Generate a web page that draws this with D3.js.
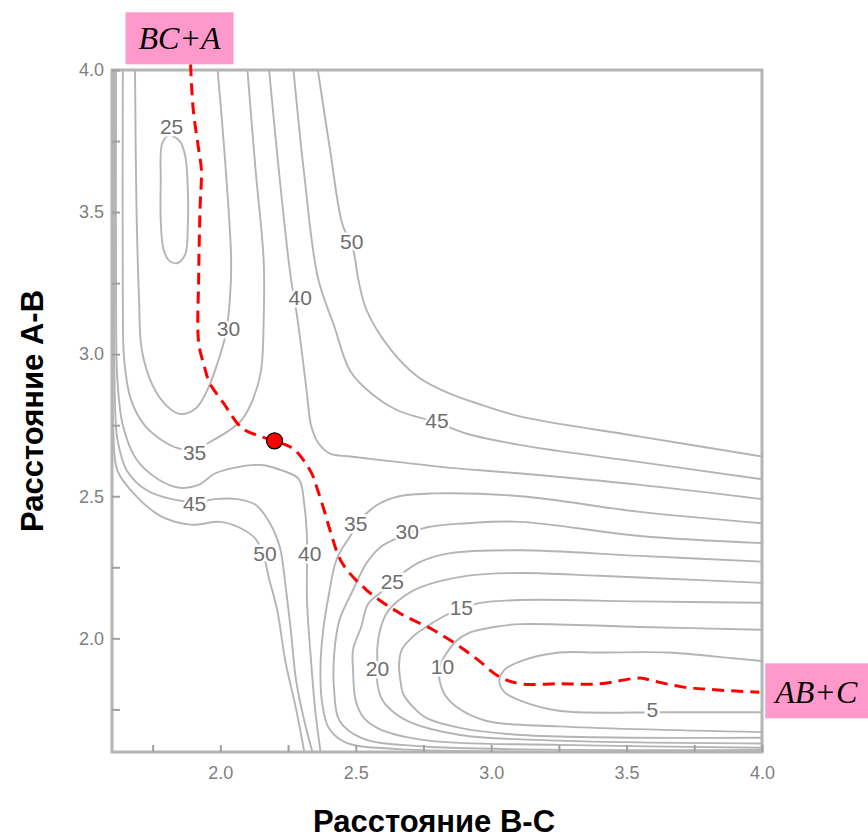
<!DOCTYPE html>
<html lang="ru">
<head>
<meta charset="UTF-8">
<title>Поверхность потенциальной энергии A + BC</title>
<script src="https://d3js.org/d3.v7.min.js"></script>
<style>
  body { margin: 0; background: #fff; }
  .axis .tick text { font-family: "Liberation Sans", Arial, sans-serif; font-size: 18px; fill: #808080; }
  .axis .tick line { stroke: #a0a0a0; stroke-width: 2; }
  .contour { fill: none; stroke: #b4b4b4; stroke-width: 1.9; }
  .clabel { font-family: "Liberation Sans", Arial, sans-serif; font-size: 21px; fill: #6e6e6e;
            text-anchor: middle; dominant-baseline: central;
            paint-order: stroke; stroke: #fff; stroke-width: 5px; }
  .axis-title { font-family: "Liberation Sans", Arial, sans-serif; font-weight: bold; font-size: 31px; fill: #000; }
  .tag text { font-family: "Liberation Serif", "Times New Roman", serif; font-style: italic; font-size: 32px; fill: #000; }
</style>
</head>
<body>
<svg id="chart" width="868" height="839"></svg>
<script>
// оси: r(B-C) по x, r(A-B) по y
const xTicks = [1.75, 2.0, 2.25, 2.5, 2.75, 3.0, 3.25, 3.5, 3.75, 4.0];
const yTicks = [1.75, 2.0, 2.25, 2.5, 2.75, 3.0, 3.25, 3.5, 3.75, 4.0];

// изолинии: [r(B-C), r(A-B)]
// выходной канал AB + C
const exit5 = [[4.00,1.92],[3.89,1.93],[3.65,1.95],[3.40,1.95],[3.25,1.95],[3.11,1.92],[3.05,1.89],[3.03,1.85],[3.05,1.81],[3.11,1.78],[3.25,1.745],[3.65,1.74],[4.00,1.74]];
const exit10 = [[4.00,2.03],[3.55,2.04],[3.11,2.05],[3.01,2.04],[2.92,2.02],[2.87,1.99],[2.83,1.94],[2.81,1.90],[2.81,1.85],[2.83,1.80],[2.87,1.76],[2.98,1.71],[3.25,1.69],[4.00,1.67]];
const exit15 = [[4.00,2.125],[3.55,2.13],[3.11,2.135],[2.96,2.125],[2.90,2.11],[2.82,2.075],[2.76,2.04],[2.71,2.005],[2.67,1.96],[2.66,1.91],[2.665,1.85],[2.675,1.805],[2.71,1.76],[2.76,1.72],[2.885,1.685],[3.11,1.66],[4.00,1.65]];
const exit20 = [[4.00,2.195],[3.77,2.205],[3.40,2.22],[3.11,2.23],[2.91,2.22],[2.74,2.18],[2.66,2.135],[2.615,2.09],[2.59,2.03],[2.58,1.97],[2.58,1.90],[2.58,1.84],[2.60,1.78],[2.64,1.74],[2.70,1.705],[2.885,1.66],[3.25,1.64],[4.00,1.63]];
const exit25 = [[4.00,2.27],[3.55,2.29],[3.11,2.31],[2.85,2.30],[2.74,2.27],[2.66,2.22],[2.59,2.16],[2.545,2.12],[2.52,2.04],[2.49,1.96],[2.49,1.89],[2.50,1.78],[2.53,1.72],[2.59,1.68],[2.77,1.64],[3.25,1.625],[4.00,1.615]];
const exit30 = [[4.00,2.335],[3.55,2.36],[3.11,2.41],[2.91,2.405],[2.76,2.39],[2.66,2.355],[2.59,2.32],[2.54,2.265],[2.49,2.17],[2.44,2.065],[2.42,1.94],[2.42,1.82],[2.44,1.71],[2.52,1.65],[2.74,1.62],[4.00,1.607]];
const exit35 = [[4.00,2.405],[3.55,2.445],[3.11,2.50],[2.785,2.51],[2.66,2.50],[2.58,2.47],[2.52,2.42],[2.48,2.36],[2.43,2.28],[2.40,2.15],[2.38,2.03],[2.37,1.91],[2.375,1.78],[2.40,1.685],[2.46,1.635],[2.66,1.61],[4.00,1.603]];
// входной канал BC + A
const loop25 = [[1.785,3.74],[1.78,3.61],[1.78,3.47],[1.79,3.37],[1.81,3.33],[1.84,3.32],[1.87,3.35],[1.88,3.455],[1.88,3.58],[1.87,3.70],[1.85,3.75],[1.81,3.77]];
const entry30 = [[1.685,4.00],[1.69,3.54],[1.70,3.19],[1.71,3.015],[1.75,2.89],[1.80,2.82],[1.85,2.79],[1.91,2.81],[1.955,2.88],[1.99,2.97],[2.02,3.07],[2.035,3.19],[2.04,3.33],[2.02,3.65],[1.99,4.00]];
const entry35 = [[1.64,4.00],[1.64,3.19],[1.645,2.98],[1.67,2.84],[1.72,2.75],[1.78,2.70],[1.84,2.67],[1.90,2.66],[1.96,2.69],[2.03,2.73],[2.08,2.77],[2.12,2.84],[2.15,2.94],[2.16,3.12],[2.16,3.33],[2.13,3.65],[2.10,4.00]];
// выше седла: гребень (справа сверху) и отталкивательная стенка (слева снизу)
const upper40 = [[2.18,4.00],[2.22,3.61],[2.26,3.27],[2.28,3.155],[2.30,3.015],[2.32,2.86],[2.335,2.75],[2.36,2.69],[2.405,2.65],[2.48,2.64],[2.66,2.62],[2.85,2.60],[3.11,2.58],[3.55,2.54],[4.00,2.49]];
const upper45 = [[2.27,4.00],[2.31,3.63],[2.36,3.27],[2.42,3.10],[2.48,2.94],[2.56,2.86],[2.66,2.80],[2.80,2.76],[2.91,2.72],[3.11,2.68],[3.55,2.62],[4.00,2.56]];
const upper50 = [[2.36,4.00],[2.405,3.72],[2.45,3.46],[2.49,3.37],[2.51,3.26],[2.54,3.155],[2.63,3.015],[2.73,2.92],[2.85,2.86],[2.97,2.82],[3.11,2.78],[3.55,2.71],[4.00,2.64]];
const lower40 = [[1.615,4.00],[1.615,3.19],[1.62,2.91],[1.64,2.75],[1.69,2.63],[1.77,2.56],[1.85,2.53],[1.92,2.54],[1.98,2.58],[2.05,2.60],[2.15,2.61],[2.23,2.59],[2.29,2.56],[2.31,2.47],[2.32,2.35],[2.32,2.135],[2.335,1.92],[2.35,1.75],[2.37,1.60]];
const lower45 = [[1.608,4.00],[1.608,3.085],[1.612,2.80],[1.62,2.70],[1.655,2.59],[1.73,2.52],[1.82,2.49],[1.91,2.48],[1.98,2.49],[2.06,2.49],[2.13,2.47],[2.18,2.41],[2.22,2.32],[2.24,2.19],[2.26,2.03],[2.28,1.85],[2.31,1.71],[2.34,1.60]];
const lower50 = [[1.603,4.00],[1.603,3.015],[1.605,2.73],[1.62,2.59],[1.685,2.505],[1.78,2.43],[1.89,2.40],[2.00,2.41],[2.07,2.39],[2.13,2.35],[2.16,2.29],[2.18,2.21],[2.21,2.10],[2.24,1.92],[2.28,1.75],[2.31,1.60]];

// подписи уровней: [уровень, r(B-C), r(A-B)]
const contourLabels = [[25,1.82,3.80],[30,2.03,3.09],[35,1.905,2.655],[40,2.295,3.20],[45,1.905,2.475],[50,2.165,2.30],
  [40,2.33,2.30],[50,2.485,3.395],[45,2.80,2.765],[35,2.50,2.405],[30,2.69,2.375],[25,2.635,2.20],
  [15,2.89,2.11],[20,2.58,1.895],[10,2.82,1.90],[5,3.595,1.75]];

// путь реакции и седловая точка
const reactionPath = [[1.89,4.02],[1.90,3.86],[1.92,3.72],[1.93,3.65],[1.925,3.51],[1.92,3.27],[1.92,3.04],[1.94,2.96],[1.96,2.90],[2.01,2.83],[2.08,2.74],[2.15,2.71],[2.20,2.695],[2.265,2.67],[2.305,2.63],[2.34,2.575],[2.36,2.52],[2.39,2.43],[2.405,2.38],[2.45,2.265],[2.54,2.17],[2.66,2.09],[2.785,2.03],[2.87,1.98],[2.95,1.925],[3.03,1.865],[3.11,1.84],[3.25,1.84],[3.40,1.84],[3.55,1.86],[3.60,1.85],[3.70,1.83],[3.81,1.82],[3.99,1.81]];
const saddle = [2.20, 2.695];

const openLines = [exit5, exit10, exit15, exit20, exit25, exit30, exit35, entry30, entry35,
  upper40, upper45, upper50, lower40, lower45, lower50];

const svg = d3.select("#chart");
const x = d3.scaleLinear().domain([1.6, 4.0]).range([112, 762]);
const y = d3.scaleLinear().domain([1.6, 4.0]).range([752, 70]);

svg.append("defs").append("clipPath").attr("id", "plot-clip")
  .append("rect")
  .attr("x", x(1.6)).attr("y", y(4.0))
  .attr("width", x(4.0) - x(1.6)).attr("height", y(1.6) - y(4.0));

const line = d3.line().x(d => x(d[0])).y(d => y(d[1])).curve(d3.curveCatmullRom.alpha(0.5));
const loopLine = d3.line().x(d => x(d[0])).y(d => y(d[1])).curve(d3.curveCatmullRomClosed.alpha(0.5));

const plot = svg.append("g").attr("clip-path", "url(#plot-clip)");
plot.selectAll("path.contour.open")
  .data(openLines)
  .join("path")
  .attr("class", "contour open")
  .attr("d", line);
plot.append("path").datum(loop25).attr("class", "contour").attr("d", loopLine);

plot.selectAll("text.clabel")
  .data(contourLabels)
  .join("text")
  .attr("class", "clabel")
  .attr("x", d => x(d[1]))
  .attr("y", d => y(d[2]))
  .text(d => d[0]);

// рамка
svg.append("rect")
  .attr("x", x(1.6)).attr("y", y(4.0))
  .attr("width", x(4.0) - x(1.6)).attr("height", y(1.6) - y(4.0))
  .attr("fill", "none").attr("stroke", "#b4b4b4").attr("stroke-width", 3);

const fmt = d => Math.abs(d * 2 - Math.round(d * 2)) < 1e-6 ? d.toFixed(1) : "";

svg.append("g").attr("class", "axis")
  .attr("transform", `translate(0,${y(1.6)})`)
  .call(d3.axisBottom(x).tickValues(xTicks).tickSize(-7).tickPadding(14).tickFormat(fmt))
  .call(g => g.select(".domain").remove());

svg.append("g").attr("class", "axis")
  .attr("transform", `translate(${x(1.6)},0)`)
  .call(d3.axisLeft(y).tickValues(yTicks).tickSize(-8).tickPadding(8).tickFormat(fmt))
  .call(g => g.select(".domain").remove());

// путь реакции
svg.append("path")
  .datum(reactionPath)
  .attr("fill", "none")
  .attr("stroke", "#ff0000")
  .attr("stroke-width", 3)
  .attr("stroke-dasharray", "12,7")
  .attr("d", line);

svg.append("circle")
  .attr("cx", x(saddle[0])).attr("cy", y(saddle[1]))
  .attr("r", 8)
  .attr("fill", "#ff0000").attr("stroke", "#000").attr("stroke-width", 1.2);

// подписи каналов
const start = reactionPath[0], end = reactionPath[reactionPath.length - 1];
const tagStart = svg.append("g").attr("class", "tag")
  .attr("transform", `translate(${x(start[0]) - 65},${y(start[1]) - 52})`);
tagStart.append("rect").attr("width", 108).attr("height", 52).attr("fill", "#ff99cc");
tagStart.append("text").attr("x", 54).attr("y", 37).attr("text-anchor", "middle").text("BC+A");

const tagEnd = svg.append("g").attr("class", "tag")
  .attr("transform", `translate(${x(end[0]) + 6},${y(end[1]) - 29})`);
tagEnd.append("rect").attr("width", 104).attr("height", 55).attr("fill", "#ff99cc");
tagEnd.append("text").attr("x", 51).attr("y", 40).attr("text-anchor", "middle").text("AB+C");

// заголовки осей
svg.append("text")
  .attr("class", "axis-title")
  .attr("x", (x(1.6) + x(4.0)) / 2 - 3)
  .attr("y", 832)
  .attr("text-anchor", "middle")
  .text("Расстояние B-C");

svg.append("text")
  .attr("class", "axis-title")
  .attr("transform", `translate(43,${(y(1.6) + y(4.0)) / 2}) rotate(-90)`)
  .attr("text-anchor", "middle")
  .text("Расстояние А-В");
</script>
</body>
</html>
